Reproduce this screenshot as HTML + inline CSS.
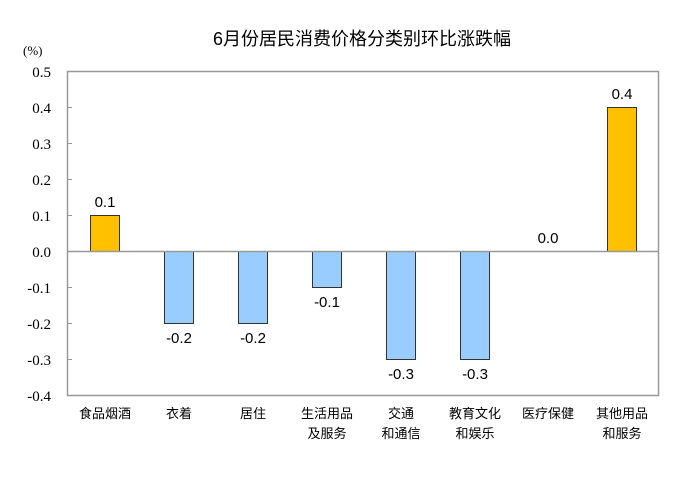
<!DOCTYPE html>
<html><head><meta charset="utf-8"><style>
body{margin:0;background:#fff;}
svg{display:block;}
.t{font-family:"Liberation Serif",serif;font-size:15px;fill:#000;}
.v{font-family:"Liberation Sans",sans-serif;font-size:15px;fill:#000;}
.c{font-family:"Liberation Sans","Noto Sans CJK SC",sans-serif;font-size:13px;fill:#000;}
</style></head><body>
<svg width="696" height="482" viewBox="0 0 696 482">
<text x="362" y="45" text-anchor="middle" style="font-family:'Liberation Sans','Noto Sans CJK SC',sans-serif;font-size:18px;">6月份居民消费价格分类别环比涨跌幅</text>
<text x="23" y="55" class="t" style="font-size:13px">(%)</text>
<rect x="67.5" y="71.5" width="591" height="324" fill="none" stroke="#999" stroke-width="1.5"/>
<g class="t" text-anchor="end">
<text x="51" y="77">0.5</text><text x="51" y="113">0.4</text><text x="51" y="149">0.3</text><text x="51" y="185">0.2</text><text x="51" y="221">0.1</text><text x="51" y="257">0.0</text><text x="51" y="293">-0.1</text><text x="51" y="329">-0.2</text><text x="51" y="365">-0.3</text><text x="51" y="401">-0.4</text>
</g>
<g stroke="#999" stroke-width="1">
<line x1="67" y1="107.5" x2="72" y2="107.5"/><line x1="67" y1="143.5" x2="72" y2="143.5"/><line x1="67" y1="179.5" x2="72" y2="179.5"/><line x1="67" y1="215.5" x2="72" y2="215.5"/><line x1="67" y1="287.5" x2="72" y2="287.5"/><line x1="67" y1="323.5" x2="72" y2="323.5"/><line x1="67" y1="359.5" x2="72" y2="359.5"/>
</g>
<g stroke="#333" stroke-width="1">
<rect x="90.5" y="215.5" width="29" height="36" fill="#FFC000"/>
<rect x="164.5" y="251.5" width="29" height="72" fill="#99CCFF"/>
<rect x="238.5" y="251.5" width="29" height="72" fill="#99CCFF"/>
<rect x="312.5" y="251.5" width="29" height="36" fill="#99CCFF"/>
<rect x="386.5" y="251.5" width="29" height="108" fill="#99CCFF"/>
<rect x="460.5" y="251.5" width="29" height="108" fill="#99CCFF"/>
<rect x="607.5" y="107.5" width="29" height="144" fill="#FFC000"/>
</g>
<line x1="67" y1="251.5" x2="658" y2="251.5" stroke="#999" stroke-width="1.5"/>
<g class="v" text-anchor="middle">
<text x="105" y="207">0.1</text><text x="179" y="343">-0.2</text><text x="253" y="343">-0.2</text><text x="327" y="307">-0.1</text><text x="401" y="379">-0.3</text><text x="475" y="379">-0.3</text><text x="548" y="243">0.0</text><text x="622" y="99">0.4</text>
</g>
<g class="c" text-anchor="middle">
<text x="105" y="418">食品烟酒</text>
<text x="179" y="418">衣着</text>
<text x="253" y="418">居住</text>
<text x="327" y="418">生活用品</text><text x="327" y="438">及服务</text>
<text x="401" y="418">交通</text><text x="401" y="438">和通信</text>
<text x="475" y="418">教育文化</text><text x="475" y="438">和娱乐</text>
<text x="548" y="418">医疗保健</text>
<text x="622" y="418">其他用品</text><text x="622" y="438">和服务</text>
</g>
</svg>
</body></html>
